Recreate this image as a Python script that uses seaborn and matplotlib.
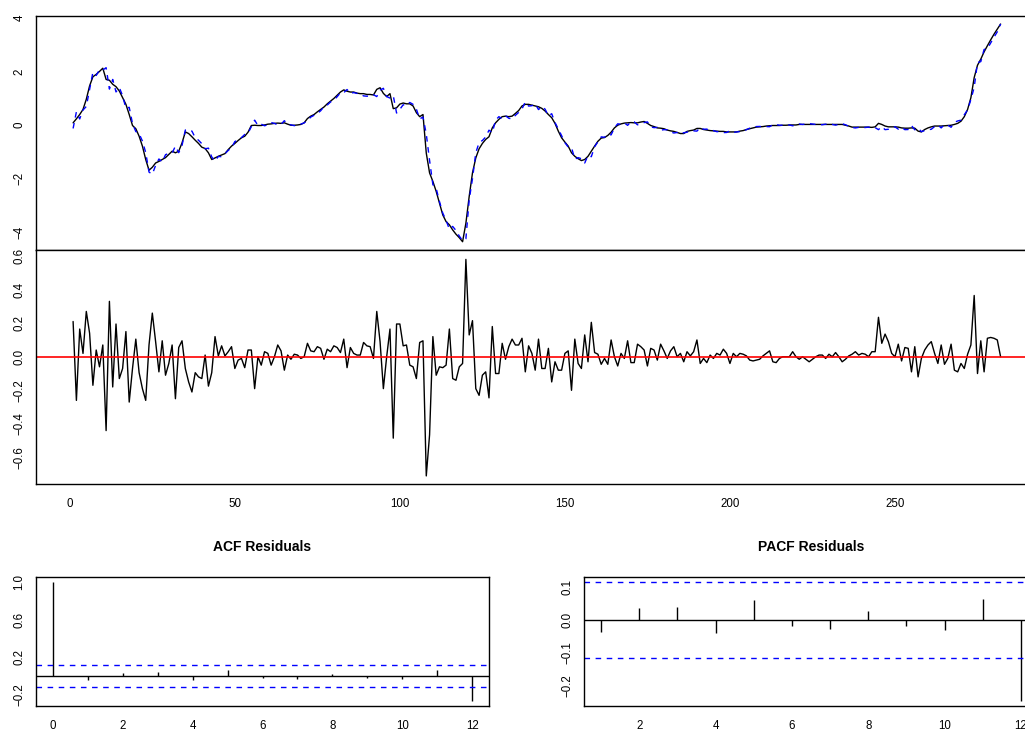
"""
Observed series with fitted values, residuals, and residual ACF / PACF.
Saves out.png (1025x733).
"""
import matplotlib
matplotlib.use("Agg")
import matplotlib.pyplot as plt
import numpy as np
import pandas as pd
import seaborn as sns

# --- data ------------------------------------------------------------
observed = [
    0.08, 0.23, 0.39, 0.58, 0.96, 1.46, 1.8, 1.89, 2.0, 2.12,
    1.7, 1.67, 1.52, 1.43, 1.27, 1.02, 0.77, 0.39, -0.02, -0.14,
    -0.42, -0.79, -1.29, -1.69, -1.58, -1.42, -1.36, -1.29, -1.22, -1.1,
    -0.98, -1.04, -0.98, -0.67, -0.26, -0.32, -0.44, -0.57, -0.69, -0.83,
    -0.88, -1.04, -1.29, -1.23, -1.17, -1.12, -1.07, -0.92, -0.79, -0.69,
    -0.58, -0.48, -0.42, -0.27, -0.02, -0.01, -0.02, -0.02, 0.0, 0.03,
    0.04, 0.06, 0.07, 0.06, 0.08, 0.03, -0.01, -0.01, 0.0, 0.02,
    0.08, 0.24, 0.33, 0.39, 0.49, 0.58, 0.67, 0.79, 0.89, 0.99,
    1.11, 1.23, 1.31, 1.26, 1.23, 1.23, 1.19, 1.17, 1.17, 1.14,
    1.14, 1.12, 1.33, 1.39, 1.18, 1.06, 1.17, 0.61, 0.64, 0.78,
    0.82, 0.79, 0.79, 0.71, 0.46, 0.31, 0.39, -1.05, -1.79, -2.11,
    -2.48, -2.92, -3.36, -3.61, -3.73, -3.92, -4.08, -4.21, -4.36, -3.67,
    -2.67, -1.79, -1.23, -0.89, -0.69, -0.54, -0.44, -0.11, 0.08, 0.21,
    0.31, 0.33, 0.31, 0.33, 0.43, 0.54, 0.71, 0.77, 0.77, 0.74,
    0.71, 0.68, 0.62, 0.52, 0.39, 0.27, 0.06, -0.23, -0.48, -0.64,
    -0.79, -1.04, -1.17, -1.26, -1.33, -1.29, -1.17, -0.98, -0.79, -0.61,
    -0.49, -0.47, -0.39, -0.27, -0.11, -0.01, 0.04, 0.07, 0.08, 0.09,
    0.08, 0.08, 0.11, 0.13, 0.06, -0.02, -0.06, -0.11, -0.12, -0.14,
    -0.19, -0.22, -0.24, -0.28, -0.32, -0.32, -0.24, -0.21, -0.19, -0.13,
    -0.13, -0.17, -0.19, -0.21, -0.22, -0.23, -0.24, -0.24, -0.26, -0.26,
    -0.26, -0.26, -0.23, -0.21, -0.17, -0.14, -0.11, -0.08, -0.07, -0.06,
    -0.04, -0.03, -0.02, -0.02, -0.02, -0.01, -0.01, 0.0, 0.0, 0.0,
    0.02, 0.02, 0.02, 0.02, 0.02, 0.02, 0.02, 0.02, 0.02, 0.02,
    0.02, 0.02, 0.02, 0.02, -0.01, -0.04, -0.08, -0.08, -0.08, -0.08,
    -0.08, -0.08, -0.09, -0.07, 0.06, 0.02, -0.04, -0.07, -0.07, -0.07,
    -0.08, -0.11, -0.12, -0.12, -0.11, -0.12, -0.23, -0.26, -0.17, -0.11,
    -0.07, -0.04, -0.04, -0.04, -0.03, -0.02, -0.01, 0.02, 0.06, 0.14,
    0.31, 0.58, 1.02, 1.77, 2.23, 2.46, 2.73, 2.96, 3.18, 3.39,
    3.58, 3.77,
]

residuals = [
    0.21, -0.26, 0.165, 0.02, 0.27, 0.14, -0.17, 0.04, -0.06, 0.07,
    -0.44, 0.33, -0.18, 0.195, -0.13, -0.07, 0.15, -0.27, -0.07, 0.105,
    -0.095, -0.19, -0.26, 0.07, 0.26, 0.09, -0.09, 0.095, -0.11, -0.04,
    0.07, -0.25, 0.055, 0.095, -0.07, -0.15, -0.21, -0.095, -0.12, -0.13,
    0.01, -0.175, -0.095, 0.12, 0.005, 0.065, 0.005, 0.03, 0.06, -0.07,
    -0.02, -0.01, -0.065, 0.04, 0.04, -0.19, 0.0, -0.05, 0.03, 0.02,
    -0.05, 0.0, 0.07, 0.035, -0.08, 0.01, -0.015, 0.015, 0.01, -0.01,
    0.0, 0.08, 0.035, 0.03, 0.06, 0.05, -0.015, 0.045, 0.03, 0.065,
    0.055, 0.025, 0.105, -0.065, 0.055, 0.02, 0.01, 0.01, 0.085, 0.065,
    0.06, -0.01, 0.27, 0.09, -0.19, 0.0, 0.165, -0.485, 0.195, 0.195,
    0.065, 0.07, -0.05, -0.06, -0.13, 0.085, 0.095, -0.71, -0.465, 0.12,
    -0.11, -0.06, -0.065, -0.05, 0.165, -0.13, -0.14, -0.06, -0.04, 0.58,
    0.13, 0.215, -0.19, -0.23, -0.11, -0.09, -0.245, 0.18, -0.1, -0.1,
    0.08, -0.015, 0.06, 0.105, 0.07, 0.07, 0.11, -0.09, 0.065, 0.02,
    -0.08, 0.105, -0.07, -0.07, 0.05, -0.15, -0.03, -0.08, -0.08, 0.02,
    0.035, -0.2, 0.105, -0.04, -0.07, 0.13, -0.03, 0.205, 0.025, 0.015,
    -0.045, -0.01, -0.045, 0.1, 0.0, -0.055, 0.02, -0.01, 0.095, -0.035,
    -0.035, 0.075, 0.06, 0.04, -0.055, 0.05, 0.04, -0.02, 0.075, 0.035,
    -0.01, 0.035, 0.06, 0.0, 0.02, -0.03, 0.03, 0.005, 0.03, 0.1,
    -0.04, -0.01, -0.035, 0.01, -0.01, 0.02, 0.01, 0.045, 0.02, -0.04,
    0.02, 0.0, 0.02, 0.015, 0.005, -0.02, -0.025, -0.02, -0.015, 0.005,
    0.02, 0.035, -0.03, -0.035, -0.01, 0.0, 0.0, 0.0, 0.03, 0.0,
    -0.015, 0.0, -0.015, -0.03, -0.015, 0.0, 0.01, 0.01, -0.01, 0.015,
    0.0, 0.025, 0.0, -0.03, -0.015, 0.005, 0.015, 0.03, 0.01, 0.02,
    0.015, 0.0, 0.03, 0.03, 0.235, 0.08, 0.135, 0.09, 0.02, 0.0,
    0.075, -0.025, 0.055, 0.05, -0.09, 0.06, -0.12, -0.01, 0.04, 0.07,
    0.09, 0.02, -0.04, 0.07, -0.045, -0.01, 0.075, -0.08, -0.09, -0.04,
    -0.07, 0.015, 0.07, 0.365, -0.1, 0.095, -0.09, 0.11, 0.115, 0.11,
    0.1, 0.0,
]

acf_lags = list(range(0, 13))
acf_values = [1.0, -0.04, 0.038, 0.04, -0.04, 0.065, -0.017, -0.026,
              0.027, -0.019, -0.029, 0.066, -0.262]
pacf_lags = list(range(1, 13))
pacf_values = [-0.037, 0.036, 0.04, -0.04, 0.06, -0.017, -0.026, 0.027,
               -0.019, -0.029, 0.065, -0.246]
conf_limit = 0.117

W, H = 1025, 733


def px_axes(fig, x0, y0, x1, y1):
    # axes from pixel box (top-left origin)
    return fig.add_axes([x0 / W, 1 - y1 / H, (x1 - x0) / W, (y1 - y0) / H])


def r_style(ax):
    for s in ax.spines.values():
        s.set_visible(True)
        s.set_color("black")
        s.set_linewidth(1.0)
    ax.tick_params(direction="out", length=5, width=0.8, colors="black",
                   labelsize=8.3)
    ax.tick_params(axis="x", pad=5)
    ax.tick_params(axis="y", pad=2.5)
    ax.grid(False)


def rotate_ylabels(ax):
    for lab in ax.get_yticklabels():
        lab.set_rotation(90)
        lab.set_va("center")
        lab.set_ha("right")


def main():
    sns.set_style("white")
    plt.rcParams["font.family"] = ["Liberation Sans", "DejaVu Sans"]
    plt.rcParams["text.color"] = "black"
    plt.rcParams["axes.labelcolor"] = "black"

    t = np.arange(1, len(observed) + 1)
    df = pd.DataFrame({"t": t, "obs": observed, "resid": residuals})
    df["fitted"] = df["obs"] - df["resid"]

    fig = plt.figure(figsize=(W / 100, H / 100), dpi=100)
    xlim = (-10.24, 293.24)

    # top: observed and fitted
    ax1 = px_axes(fig, 36, 16, 1037.7, 250)
    sns.lineplot(data=df, x="t", y="obs", ax=ax1, color="black", lw=1.0)
    sns.lineplot(data=df, x="t", y="fitted", ax=ax1, color="blue", lw=1.0,
                 linestyle=(0, (4, 4)))
    ax1.set_xlim(xlim)
    ax1.set_ylim(-4.67, 4.07)
    r_style(ax1)
    ax1.set_yticks([-4, -2, 0, 2, 4])
    ax1.tick_params(axis="x", bottom=False, labelbottom=False)
    ax1.set_xlabel("")
    ax1.set_ylabel("")
    rotate_ylabels(ax1)

    # middle: residuals
    ax2 = px_axes(fig, 36, 250, 1037.7, 484.3)
    sns.lineplot(data=df, x="t", y="resid", ax=ax2, color="black", lw=1.0)
    ax2.axhline(0, color="red", lw=1.2)
    ax2.set_xlim(xlim)
    ax2.set_ylim(-0.76, 0.636)
    r_style(ax2)
    ax2.set_yticks([-0.6, -0.4, -0.2, 0.0, 0.2, 0.4, 0.6])
    ax2.set_yticklabels(["\u22120.6", "\u22120.4", "\u22120.2", "0.0", "0.2", "0.4", "0.6"])
    ax2.set_xticks([0, 50, 100, 150, 200, 250])
    ax2.set_xlabel("")
    ax2.set_ylabel("")
    rotate_ylabels(ax2)

    # bottom left: ACF
    ax3 = px_axes(fig, 36, 576.7, 489, 705.7)
    ax3.vlines(acf_lags, 0, acf_values, color="black", lw=1.0)
    ax3.axhline(0, color="black", lw=1.0)
    for c in (conf_limit, -conf_limit):
        ax3.axhline(c, color="blue", lw=1.0, linestyle=(0, (4, 4)))
    ax3.set_xlim(-0.48, 12.48)
    ax3.set_ylim(-0.312, 1.052)
    r_style(ax3)
    ax3.set_xticks(range(0, 13, 2))
    ax3.set_yticks([-0.2, 0.0, 0.2, 0.4, 0.6, 0.8, 1.0])
    ax3.set_yticklabels(["\u22120.2", "", "0.2", "", "0.6", "", "1.0"])
    rotate_ylabels(ax3)
    ax3.set_title("ACF Residuals", fontsize=10, fontweight="bold",
                  color="black", pad=18.7)

    # bottom right: PACF
    ax4 = px_axes(fig, 584.3, 577, 1037.8, 705.7)
    ax4.vlines(pacf_lags, 0, pacf_values, color="black", lw=1.0)
    ax4.axhline(0, color="black", lw=1.0)
    for c in (conf_limit, -conf_limit):
        ax4.axhline(c, color="blue", lw=1.0, linestyle=(0, (4, 4)))
    ax4.set_xlim(0.56, 12.44)
    ax4.set_ylim(-0.261, 0.131)
    r_style(ax4)
    ax4.set_xticks(range(2, 13, 2))
    ax4.set_yticks([-0.2, -0.1, 0.0, 0.1])
    ax4.set_yticklabels(["\u22120.2", "\u22120.1", "0.0", "0.1"])
    rotate_ylabels(ax4)
    ax4.set_title("PACF Residuals", fontsize=10, fontweight="bold",
                  color="black", pad=18.7)

    fig.savefig("out.png", dpi=100)


if __name__ == "__main__":
    main()
